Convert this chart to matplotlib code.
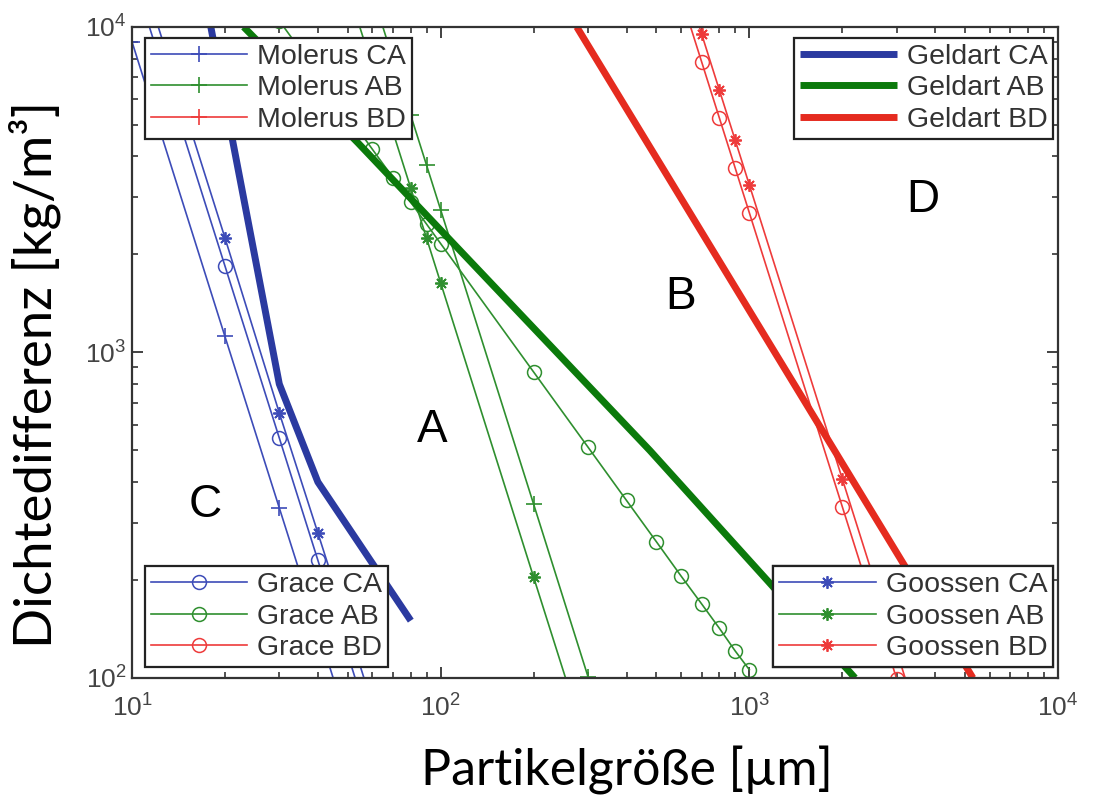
import matplotlib
matplotlib.use('Agg')
import matplotlib.pyplot as plt

plt.rcParams['font.family'] = ['Liberation Sans', 'DejaVu Sans']
plt.rcParams['mathtext.default'] = 'regular'

# Geldart boundaries (thick lines)
geldart_ca_x = [18, 30, 40, 80]
geldart_ca_y = [10000, 800, 400, 150]
geldart_ab_x = [23, 54, 185, 476, 1140, 2200]
geldart_ab_y = [10000, 4400, 1285, 500, 200, 100]
geldart_bd_x = [276, 5300]
geldart_bd_y = [10000, 100]

# Molerus (+)
molerus_ca_x = [10, 20, 30, 40, 50]
molerus_ca_y = [9000, 1120, 333, 141, 72]
molerus_ab_x = [60, 70, 80, 90, 100, 200, 300]
molerus_ab_y = [12685, 7990, 5350, 3760, 2740, 342, 101]
molerus_bd_x = []
molerus_bd_y = []

# Grace (o)
grace_ca_x = [10, 20, 30, 40, 50, 60]
grace_ca_y = [14750, 1844, 546, 230, 118, 68]
grace_ab_x = [30, 40, 50, 60, 70, 80, 90, 100, 200, 300, 400, 500, 600, 700, 800, 900, 1000]
grace_ab_y = [10450, 7170, 5356, 4216, 3446, 2893, 2479, 2159, 871, 512, 351, 262, 206, 169, 142, 121, 106]
grace_bd_x = [600, 700, 800, 900, 1000, 2000, 3000]
grace_bd_y = [12430, 7828, 5244, 3683, 2685, 336, 99.5]

# Goossen (*)
goossen_ca_x = [10, 20, 30, 40, 50, 60]
goossen_ca_y = [18000, 2250, 652, 279, 144, 83]
goossen_ab_x = [50, 60, 70, 80, 90, 100, 200, 300]
goossen_ab_y = [13080, 7569, 4767, 3193, 2243, 1635, 204, 60.6]
goossen_bd_x = [600, 700, 800, 900, 1000, 2000, 3000, 4000]
goossen_bd_y = [15140, 9534, 6387, 4486, 3270, 409, 121, 51]

blue_thick, green_thick, red_thick = '#2b3aa0', '#0b7a0b', '#e52b1f'
blue, green, red = '#3d4cb8', '#2f8f2f', '#ee3b3b'

fig = plt.figure(figsize=(10.93, 8.05), dpi=100)
ax = fig.add_axes([0.1208, 0.1578, 0.8472, 0.8087])

plus = dict(marker='+', lw=1.2, ms=11, mew=1.2)
circ = dict(marker='o', mfc='none', lw=1.2, ms=10, mew=1.1)
star = dict(marker=(8, 2, 0), lw=1.2, ms=9, mew=1.3)

m1, = ax.plot(molerus_ca_x, molerus_ca_y, color=blue, label='Molerus CA', **plus)
m2, = ax.plot(molerus_ab_x, molerus_ab_y, color=green, label='Molerus AB', **plus)
m3, = ax.plot(molerus_bd_x, molerus_bd_y, color=red, label='Molerus BD', **plus)

g1, = ax.plot(grace_ca_x, grace_ca_y, color=blue, label='Grace CA', **circ)
g2, = ax.plot(grace_ab_x, grace_ab_y, color=green, label='Grace AB', **circ)
g3, = ax.plot(grace_bd_x, grace_bd_y, color=red, label='Grace BD', **circ)

s1, = ax.plot(goossen_ca_x, goossen_ca_y, color=blue, label='Goossen CA', **star)
s2, = ax.plot(goossen_ab_x, goossen_ab_y, color=green, label='Goossen AB', **star)
s3, = ax.plot(goossen_bd_x, goossen_bd_y, color=red, label='Goossen BD', **star)

d1, = ax.plot(geldart_ca_x, geldart_ca_y, color=blue_thick, lw=5, label='Geldart CA', solid_capstyle='butt')
d2, = ax.plot(geldart_ab_x, geldart_ab_y, color=green_thick, lw=5, label='Geldart AB', solid_capstyle='butt')
d3, = ax.plot(geldart_bd_x, geldart_bd_y, color=red_thick, lw=5, label='Geldart BD', solid_capstyle='butt')

ax.set_xscale('log')
ax.set_yscale('log')
ax.set_xlim(10, 1e4)
ax.set_ylim(100, 1e4)

for sp in ax.spines.values():
    sp.set_color('#333333')
    sp.set_linewidth(1.6)
ax.tick_params(which='both', direction='in', top=True, right=True, colors='#333333',
               labelcolor='#444444', labelsize=19)
ax.tick_params(which='major', length=8, width=1.3)
ax.tick_params(which='minor', length=4, width=1.2)
ax.tick_params(axis='x', pad=12)
ax.tick_params(axis='y', pad=4)

# region letters
for letter, lx, ly in [('A', 0.324, 0.381), ('B', 0.592, 0.585), ('C', 0.079, 0.266), ('D', 0.854, 0.734)]:
    ax.text(lx, ly, letter, transform=ax.transAxes, fontsize=33, ha='center', va='center')

leg_kw = dict(fontsize=20.5, frameon=True, fancybox=False, edgecolor='#222222', framealpha=1,
              handlelength=3.4, handletextpad=0.35, labelspacing=0.2, borderpad=0.2,
              borderaxespad=0)

groups = [([m1, m2, m3], 'upper left', (0.014, 0.983)),
          ([d1, d2, d3], 'upper right', (0.9946, 0.983)),
          ([g1, g2, g3], 'lower left', (0.014, 0.017)),
          ([s1, s2, s3], 'lower right', (0.9946, 0.017))]
for handles, loc, anchor in groups:
    leg = ax.legend(handles=handles, loc=loc, bbox_to_anchor=anchor, **leg_kw)
    leg.get_frame().set_linewidth(1.6)
    for t in leg.get_texts():
        t.set_color('#333333')
    ax.add_artist(leg)

fig.text(35 / 1093, 1 - 375 / 805, 'Dichtedifferenz [kg/m³]', rotation=90, ha='center', va='center',
         fontsize=38, family=['Lato', 'DejaVu Sans'])
fig.text(627 / 1093, 1 - 770 / 805, 'Partikelgröße [µm]', ha='center', va='center',
         fontsize=36, family=['Lato', 'DejaVu Sans'])

fig.savefig('out.png', dpi=100)
